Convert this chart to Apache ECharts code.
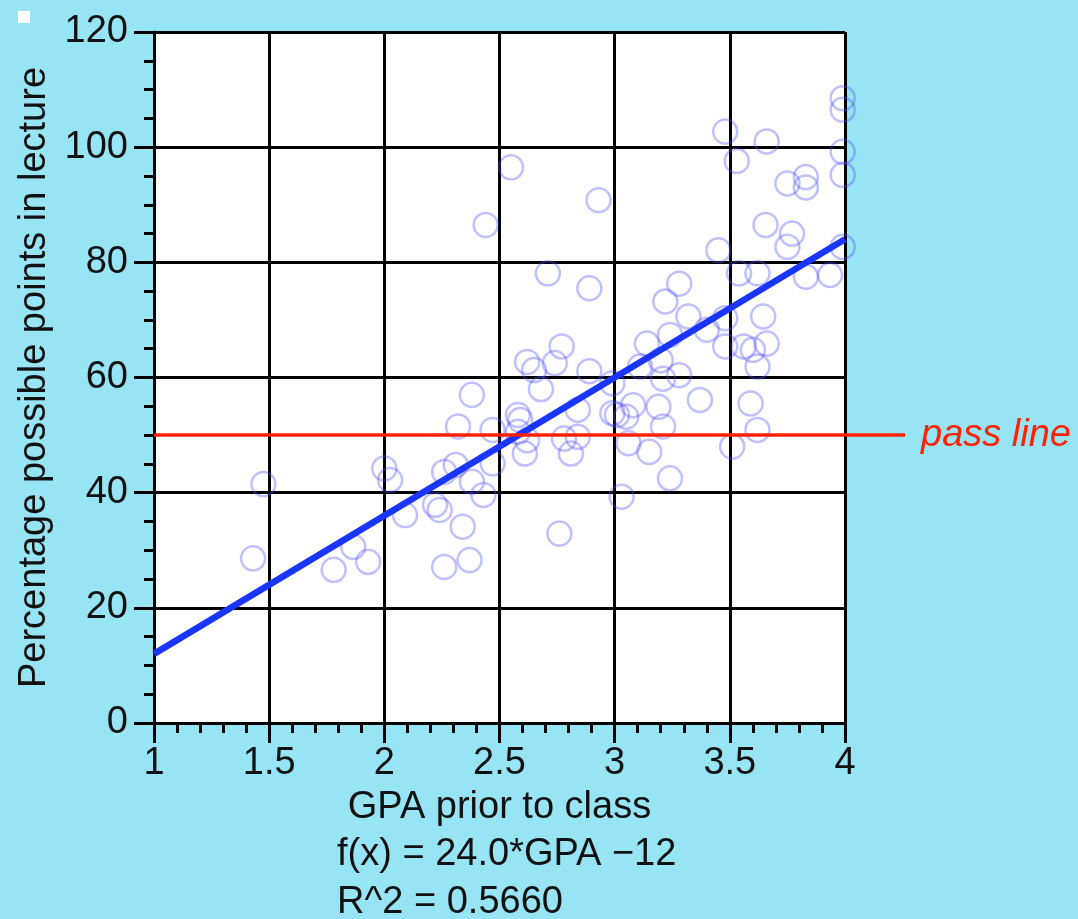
<!DOCTYPE html>
<html>
<head>
<meta charset="utf-8">
<script src="https://cdn.jsdelivr.net/npm/echarts@6/dist/echarts.min.js"></script>
<style>
  html, body { margin: 0; padding: 0; background: #97e4f4; }
  #chart-container { width: 1078px; height: 919px; }
</style>
</head>
<body>
<div id="chart-container"></div>
<script>
// GPA before the class vs. percentage of points
const gpa = [
  1.43, 1.475, 1.78, 1.865, 1.93, 2.0, 2.025, 2.09, 2.22, 2.24,
  2.26, 2.26, 2.31, 2.34, 2.37, 2.38, 2.43, 2.32, 2.38, 2.47,
  2.47, 2.44, 2.55, 2.58, 2.59, 2.58, 2.62, 2.61, 2.62, 2.65,
  2.68, 2.71, 2.74, 2.77, 2.76, 2.78, 2.84, 2.81, 2.84, 2.89,
  2.89, 2.93, 2.99, 2.99, 3.01, 3.05, 3.03, 3.06, 3.08, 3.11,
  3.14, 3.15, 3.19, 3.20, 3.21, 3.21, 3.22, 3.24, 3.24, 3.28,
  3.28, 3.32, 3.37, 3.40, 3.45, 3.48, 3.48, 3.48, 3.51, 3.53,
  3.54, 3.56, 3.59, 3.60, 3.62, 3.62, 3.62, 3.645, 3.655, 3.66,
  3.66, 3.75, 3.75, 3.77, 3.83, 3.83, 3.83, 3.935, 3.99, 3.99,
  3.99, 3.99, 3.99
];
const puntos = [
  28.6, 41.5, 26.6, 30.6, 28.0, 44.2, 42.2, 36.1, 37.9, 37.0,
  27.1, 43.6, 44.8, 34.1, 28.3, 41.9, 39.6, 51.5, 57.0, 50.9,
  45.1, 86.5, 96.5, 53.5, 52.6, 50.6, 49.1, 46.8, 62.7, 61.3,
  58.0, 78.1, 62.5, 65.4, 32.9, 49.4, 49.7, 46.8, 54.4, 75.5,
  61.1, 90.8, 59.0, 53.8, 53.5, 53.2, 39.3, 48.6, 55.2, 61.9,
  65.9, 47.1, 54.9, 63.0, 59.8, 51.5, 73.2, 67.4, 42.5, 76.3,
  60.4, 70.6, 56.1, 68.3, 82.1, 102.7, 70.3, 65.4, 48.0, 97.6,
  78.1, 65.4, 55.5, 64.8, 78.1, 61.9, 50.9, 70.6, 86.5, 101.0,
  65.9, 93.7, 82.7, 85.0, 94.8, 93.0, 77.5, 77.8, 108.5, 106.5,
  99.2, 95.2, 82.7
];
// ajuste lineal f(x) = 24.0*GPA - 12
const ajusteX = [1, 4];
const ajusteY = [12, 84];
const lineaAprobado = 50;
const textoAjuste = ['f(x) = 24.0*GPA \u221212', 'R^2 = 0.5660'];

const fuente = 'Liberation Sans, Arial, sans-serif';
const fs = 38;

let myChart = echarts.init(document.getElementById('chart-container'), null, {
  renderer: 'canvas'
});

const opciones = {
  backgroundColor: '#97e4f4',
  animation: false,
  grid: {
    left: 154, right: 233, top: 32, bottom: 196,
    show: true, backgroundColor: '#ffffff', borderWidth: 0
  },
  xAxis: {
    type: 'value',
    min: 1, max: 4, interval: 0.5,
    name: 'GPA prior to class',
    nameLocation: 'middle',
    nameGap: 66,
    nameTextStyle: { fontSize: fs, color: '#111', fontFamily: fuente },
    axisLine: { lineStyle: { color: '#000', width: 3 } },
    axisTick: { show: true, inside: false, length: 20, lineStyle: { color: '#000', width: 3 } },
    minorTick: { show: true, splitNumber: 5, length: 10, lineStyle: { color: '#000', width: 3 } },
    splitLine: { show: true, lineStyle: { color: '#000', width: 3 } },
    axisLabel: { fontSize: fs, color: '#111', fontFamily: fuente, margin: 22 }
  },
  yAxis: {
    type: 'value',
    min: 0, max: 120, interval: 20,
    name: 'Percentage possible points in lecture',
    nameLocation: 'middle',
    nameGap: 98,
    nameTextStyle: { fontSize: fs, color: '#111', fontFamily: fuente },
    axisLine: { show: true, lineStyle: { color: '#000', width: 3 } },
    axisTick: { show: true, inside: false, length: 20, lineStyle: { color: '#000', width: 3 } },
    minorTick: { show: true, splitNumber: 4, length: 10, lineStyle: { color: '#000', width: 3 } },
    splitLine: { show: true, lineStyle: { color: '#000', width: 3 } },
    axisLabel: { fontSize: fs, color: '#111', fontFamily: fuente, margin: 26 }
  },
  series: [
    {
      type: 'scatter',
      data: gpa.map((g, i) => [g, puntos[i]]),
      symbol: 'circle',
      symbolSize: 24,
      itemStyle: {
        color: 'rgba(0,0,0,0)',
        borderColor: 'rgba(80,80,255,0.45)',
        borderWidth: 2.5
      },
      z: 3
    },
    {
      type: 'line',
      data: ajusteX.map((x, i) => [x, ajusteY[i]]),
      symbol: 'none',
      lineStyle: { color: '#1a35ff', width: 6.5 },
      z: 4,
      markLine: {
        silent: true,
        symbol: 'none',
        label: { show: false },
        lineStyle: { color: '#ff2200', width: 3.5, type: 'solid' },
        data: [{ yAxis: lineaAprobado }]
      }
    }
  ]
};

myChart.setOption(opciones);

// extensión de la línea roja fuera del área y el texto
const p = myChart.convertToPixel({ gridIndex: 0 }, [4, lineaAprobado]);
myChart.setOption({
  graphic: [
    {
      type: 'rect',
      shape: { x: 18, y: 11, width: 12, height: 12 },
      style: { fill: '#ffffff' }
    },
    {
      type: 'line',
      shape: { x1: p[0], y1: p[1], x2: p[0] + 60, y2: p[1] },
      style: { stroke: '#ff2200', lineWidth: 3.5 }
    },
    {
      type: 'text',
      x: p[0] + 76, y: p[1],
      style: {
        text: 'pass line', fill: '#ff2200',
        font: 'italic ' + fs + 'px ' + fuente,
        verticalAlign: 'middle'
      }
    },
    {
      type: 'text',
      x: 337, y: 855,
      style: { text: textoAjuste[0], fill: '#111', font: fs + 'px ' + fuente, verticalAlign: 'middle' }
    },
    {
      type: 'text',
      x: 337, y: 903,
      style: { text: textoAjuste[1], fill: '#111', font: fs + 'px ' + fuente, verticalAlign: 'middle' }
    }
  ]
});

window.addEventListener('resize', myChart.resize);
</script>
</body>
</html>
